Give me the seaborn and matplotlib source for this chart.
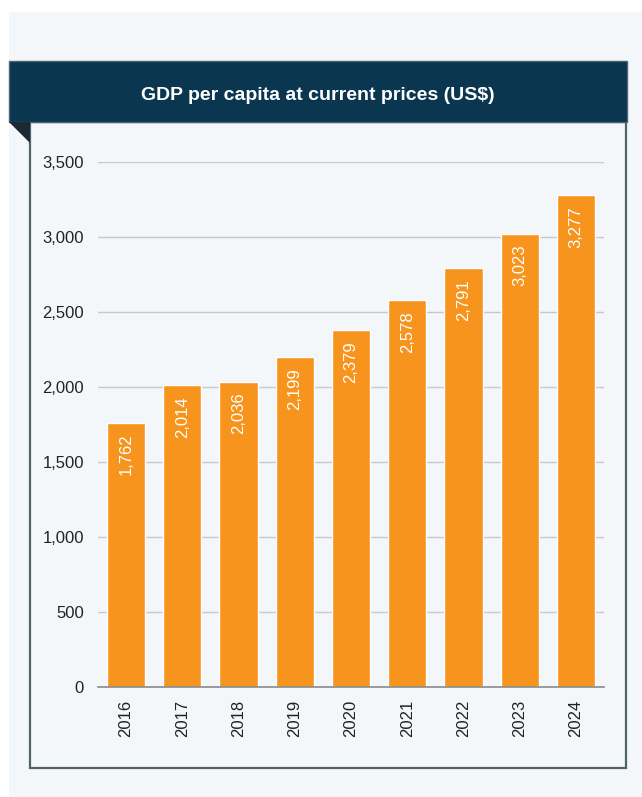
import matplotlib
matplotlib.use('Agg')
import matplotlib.pyplot as plt
from matplotlib.patches import Rectangle, Polygon
import seaborn as sns

# Data
years = ['2016', '2017', '2018', '2019', '2020', '2021', '2022', '2023', '2024']
gdp_per_capita = [1762, 2014, 2036, 2199, 2379, 2578, 2791, 3023, 3277]
y_ticks = [0, 500, 1000, 1500, 2000, 2500, 3000, 3500]

bar_color = '#f7941d'
header_color = '#0a3650'
bg_color = '#f3f7f9'

sns.set_style('white')
plt.rcParams['font.family'] = ['Liberation Sans', 'DejaVu Sans']

W, H = 642, 797
fig = plt.figure(figsize=(W / 100, H / 100), dpi=100, facecolor='white')

def fx(px):
    return px / W

def fy(py):
    return 1 - py / H

# page background, header band, corner fold and frame
fig.patches.append(Rectangle((fx(9), 0), 1 - fx(9), fy(12), transform=fig.transFigure,
                             facecolor=bg_color, edgecolor='none', zorder=-3))
fig.patches.append(Rectangle((fx(30), fy(768)), fx(626) - fx(30), fy(122) - fy(768),
                             transform=fig.transFigure, facecolor=bg_color,
                             edgecolor='#51636b', linewidth=1.6, zorder=-2))
fig.patches.append(Rectangle((fx(9), fy(122)), fx(627) - fx(9), fy(61) - fy(122),
                             transform=fig.transFigure, facecolor=header_color,
                             edgecolor='#4d6272', linewidth=1.0, zorder=-1))
fig.patches.append(Polygon([(fx(9), fy(122)), (fx(30), fy(122)), (fx(30), fy(143))],
                           closed=True, transform=fig.transFigure,
                           facecolor='#1b2a31', edgecolor='none', zorder=-1))
fig.text(fx(318), fy(95), 'GDP per capita at current prices (US$)', color='white',
         fontsize=14, fontweight='bold', ha='center', va='center', zorder=3)

ax = fig.add_axes([fx(98), fy(687), fx(604) - fx(98), fy(162) - fy(687)])
ax.set_facecolor('none')
ax.set_zorder(5)

sns.barplot(x=years, y=gdp_per_capita, color=bar_color, width=0.68,
            saturation=1, ax=ax, zorder=3)

for i, v in enumerate(gdp_per_capita):
    ax.annotate(f'{v:,}', xy=(i, v), xytext=(0, -8), textcoords='offset points',
                rotation=90, ha='center', va='top', color='white', fontsize=12,
                zorder=4)

ax.set_xlim(-0.5, len(years) - 0.5)
ax.set_ylim(0, 3500)
ax.set_yticks(y_ticks)
ax.set_yticklabels([f'{t:,}' for t in y_ticks])
ax.yaxis.grid(True, color='#c9c9c9', linewidth=1.0)
ax.set_axisbelow(True)

ax.set_xticks(range(len(years)))
ax.set_xticklabels(years, rotation=90)
ax.set_xticks([i - 0.5 for i in range(len(years) + 1)], minor=True)
ax.tick_params(axis='x', which='major', length=0, pad=9, labelsize=12, colors='#222222')
ax.tick_params(axis='x', which='minor', length=7, width=1.2, color='#8a8a8a', direction='out')
ax.tick_params(axis='y', length=0, pad=10, labelsize=12, colors='#222222')
ax.set_xlabel('')
ax.set_ylabel('')

for side in ['top', 'right', 'left']:
    ax.spines[side].set_visible(False)
ax.spines['bottom'].set_color('#8a8a8a')
ax.spines['bottom'].set_linewidth(1.2)
ax.spines['bottom'].set_zorder(5)

fig.savefig('out.png', dpi=100, facecolor='white')
